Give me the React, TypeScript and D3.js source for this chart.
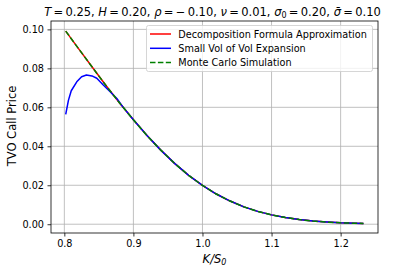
import React, { useEffect, useRef } from "react";
import * as d3 from "d3";

// strike grid (K/S0) shared by decomposition formula and MC
const strikes = [0.802, 0.82, 0.84, 0.86, 0.88, 0.9, 0.92, 0.94, 0.96, 0.98, 1.0, 1.02, 1.04, 1.06, 1.08, 1.1, 1.12, 1.14, 1.16, 1.18, 1.2, 1.22, 1.233];
const decompPrice = [0.0991, 0.0904, 0.0808, 0.0713, 0.0622, 0.0536, 0.0454, 0.0379, 0.0311, 0.0251, 0.0199, 0.0155, 0.0119, 0.0089, 0.0066, 0.0048, 0.0034, 0.0024, 0.0016, 0.0011, 0.0007, 0.0005, 0.0004];
const mcPrice = [0.0991, 0.0904, 0.0808, 0.0713, 0.0622, 0.0536, 0.0454, 0.0379, 0.0311, 0.0251, 0.0199, 0.0155, 0.0119, 0.0089, 0.0066, 0.0048, 0.0034, 0.0024, 0.0016, 0.0011, 0.0007, 0.0005, 0.0004];

// small vol of vol expansion, denser at the left where it bends
const strikesSV = [0.802, 0.806, 0.81, 0.818, 0.825, 0.832, 0.84, 0.847, 0.856, 0.866, 0.876, 0.885, 0.9, 0.92, 0.94, 0.96, 0.98, 1.0, 1.02, 1.04, 1.06, 1.08, 1.1, 1.12, 1.14, 1.16, 1.18, 1.2, 1.22, 1.233];
const smallVolPrice = [0.0564, 0.0637, 0.0685, 0.0731, 0.0757, 0.0766, 0.0761, 0.0749, 0.0716, 0.0681, 0.0645, 0.0601, 0.0536, 0.0454, 0.0379, 0.0311, 0.0251, 0.0199, 0.0155, 0.0119, 0.0089, 0.0066, 0.0048, 0.0034, 0.0024, 0.0016, 0.0011, 0.0007, 0.0005, 0.0004];

const xTicks = [0.8, 0.9, 1.0, 1.1, 1.2];
const yTicks = [0.0, 0.02, 0.04, 0.06, 0.08, 0.1];

const legendItems = [
  { label: "Decomposition Formula Approximation", color: "#ff0000", dash: null },
  { label: "Small Vol of Vol Expansion", color: "#0000ff", dash: null },
  { label: "Monte Carlo Simulation", color: "#008000", dash: "5.5,2.4" },
];

export default function App() {
  const svgRef = useRef<SVGSVGElement>(null);

  useEffect(() => {
    const svg = d3.select(svgRef.current);
    svg.selectAll("*").remove();
    const width = 400;
    const height = 273;
    const left = 51, right = 378, top = 21, bottom = 233;
    const font = "DejaVu Sans, sans-serif";

    svg.attr("width", width).attr("height", height);

    const x = d3.scaleLinear().domain([0.7807, 1.2541]).range([left, right]);
    const y = d3.scaleLinear().domain([-0.0045, 0.1043]).range([bottom, top]);

    // grid
    const grid = svg.append("g");
    grid.selectAll("line.gx").data(xTicks).join("line")
      .attr("x1", (d) => x(d)).attr("x2", (d) => x(d))
      .attr("y1", top).attr("y2", bottom)
      .attr("stroke", "#b0b0b0").attr("stroke-width", 0.8);
    grid.selectAll("line.gy").data(yTicks).join("line")
      .attr("y1", (d) => y(d)).attr("y2", (d) => y(d))
      .attr("x1", left).attr("x2", right)
      .attr("stroke", "#b0b0b0").attr("stroke-width", 0.8);

    // lines
    const plot = (xs: number[], ys: number[], color: string, dash: string | null) => {
      const pts = xs.map((k, i) => [k, ys[i]] as [number, number]);
      const line = d3.line<[number, number]>().x((d) => x(d[0])).y((d) => y(d[1]));
      const p = svg.append("path").attr("d", line(pts))
        .attr("fill", "none").attr("stroke", color).attr("stroke-width", 1.5)
        .attr("stroke-linejoin", "round");
      if (dash) p.attr("stroke-dasharray", dash);
    };
    plot(strikes, decompPrice, "#ff0000", null);
    plot(strikesSV, smallVolPrice, "#0000ff", null);
    plot(strikes, mcPrice, "#008000", "5.5,2.4");

    // axes
    const xAxis = svg.append("g").attr("transform", `translate(0,${bottom})`)
      .call(d3.axisBottom(x).tickValues(xTicks).tickFormat(d3.format(".1f")).tickSizeOuter(0).tickSize(3.5).tickPadding(3.5));
    const yAxis = svg.append("g").attr("transform", `translate(${left},0)`)
      .call(d3.axisLeft(y).tickValues(yTicks).tickFormat(d3.format(".2f")).tickSizeOuter(0).tickSize(3.5).tickPadding(3.5));
    [xAxis, yAxis].forEach((a) => {
      a.select(".domain").remove();
      a.selectAll("line").attr("stroke", "#000").attr("stroke-width", 0.8);
      a.selectAll("text").attr("font-family", font).attr("font-size", 9.7).attr("fill", "#000");
    });

    // spines
    svg.append("rect").attr("x", left).attr("y", top)
      .attr("width", right - left).attr("height", bottom - top)
      .attr("fill", "none").attr("stroke", "#000").attr("stroke-width", 0.8);

    // axis labels
    svg.append("text").attr("transform", `translate(16,126) rotate(-90)`)
      .attr("text-anchor", "middle").attr("font-family", font).attr("font-size", 11.5)
      .text("TVO Call Price");
    const xl = svg.append("text").attr("x", (left + right) / 2).attr("y", 263)
      .attr("text-anchor", "middle").attr("font-family", font).attr("font-size", 11.5);
    xl.append("tspan").attr("font-style", "italic").text("K/S");
    xl.append("tspan").attr("font-style", "italic").attr("font-size", 8).attr("dy", 2).text("0");

    // title
    const title = svg.append("text").attr("x", (left + right) / 2 - 2).attr("y", 16)
      .attr("text-anchor", "middle").attr("font-family", font).attr("font-size", 11.5)
      .style("white-space", "pre");
    const parts: [string, boolean, boolean?][] = [
      ["T", true], ["\u2009=\u20090.25, ", false],
      ["H", true], ["\u2009=\u20090.20, ", false],
      ["\u03c1", true], ["\u2009=\u2009\u2212\u20090.10, ", false],
      ["\u03bd", true], ["\u2009=\u20090.01, ", false],
      ["\u03c3", true], ["0", false, true], ["\u2009=\u20090.20, ", false],
      ["\u03c3\u0304", true], ["\u2009=\u20090.10", false],
    ];
    parts.forEach(([t, it, sub], i) => {
      const ts = title.append("tspan").text(t);
      if (it) ts.attr("font-style", "italic");
      if (sub) ts.attr("font-size", 8).attr("dy", 2);
      else if (i > 0 && parts[i - 1][2]) ts.attr("dy", -2);
    });

    // legend
    const lg = svg.append("g");
    lg.append("rect").attr("x", 146.5).attr("y", 25.5).attr("width", 226).attr("height", 46)
      .attr("rx", 2).attr("fill", "#fff").attr("fill-opacity", 0.8)
      .attr("stroke", "#cccccc").attr("stroke-width", 0.8);
    legendItems.forEach((it, i) => {
      const ly = 34 + i * 14.3;
      const l = lg.append("line").attr("x1", 150).attr("x2", 171).attr("y1", ly).attr("y2", ly)
        .attr("stroke", it.color).attr("stroke-width", 1.5);
      if (it.dash) l.attr("stroke-dasharray", it.dash);
      lg.append("text").attr("x", 178.3).attr("y", ly + 3.5)
        .attr("font-family", font).attr("font-size", 9.7).text(it.label);
    });
  }, []);

  return <svg ref={svgRef} style={{ position: "absolute", left: 0, top: 0 }}></svg>;
}
